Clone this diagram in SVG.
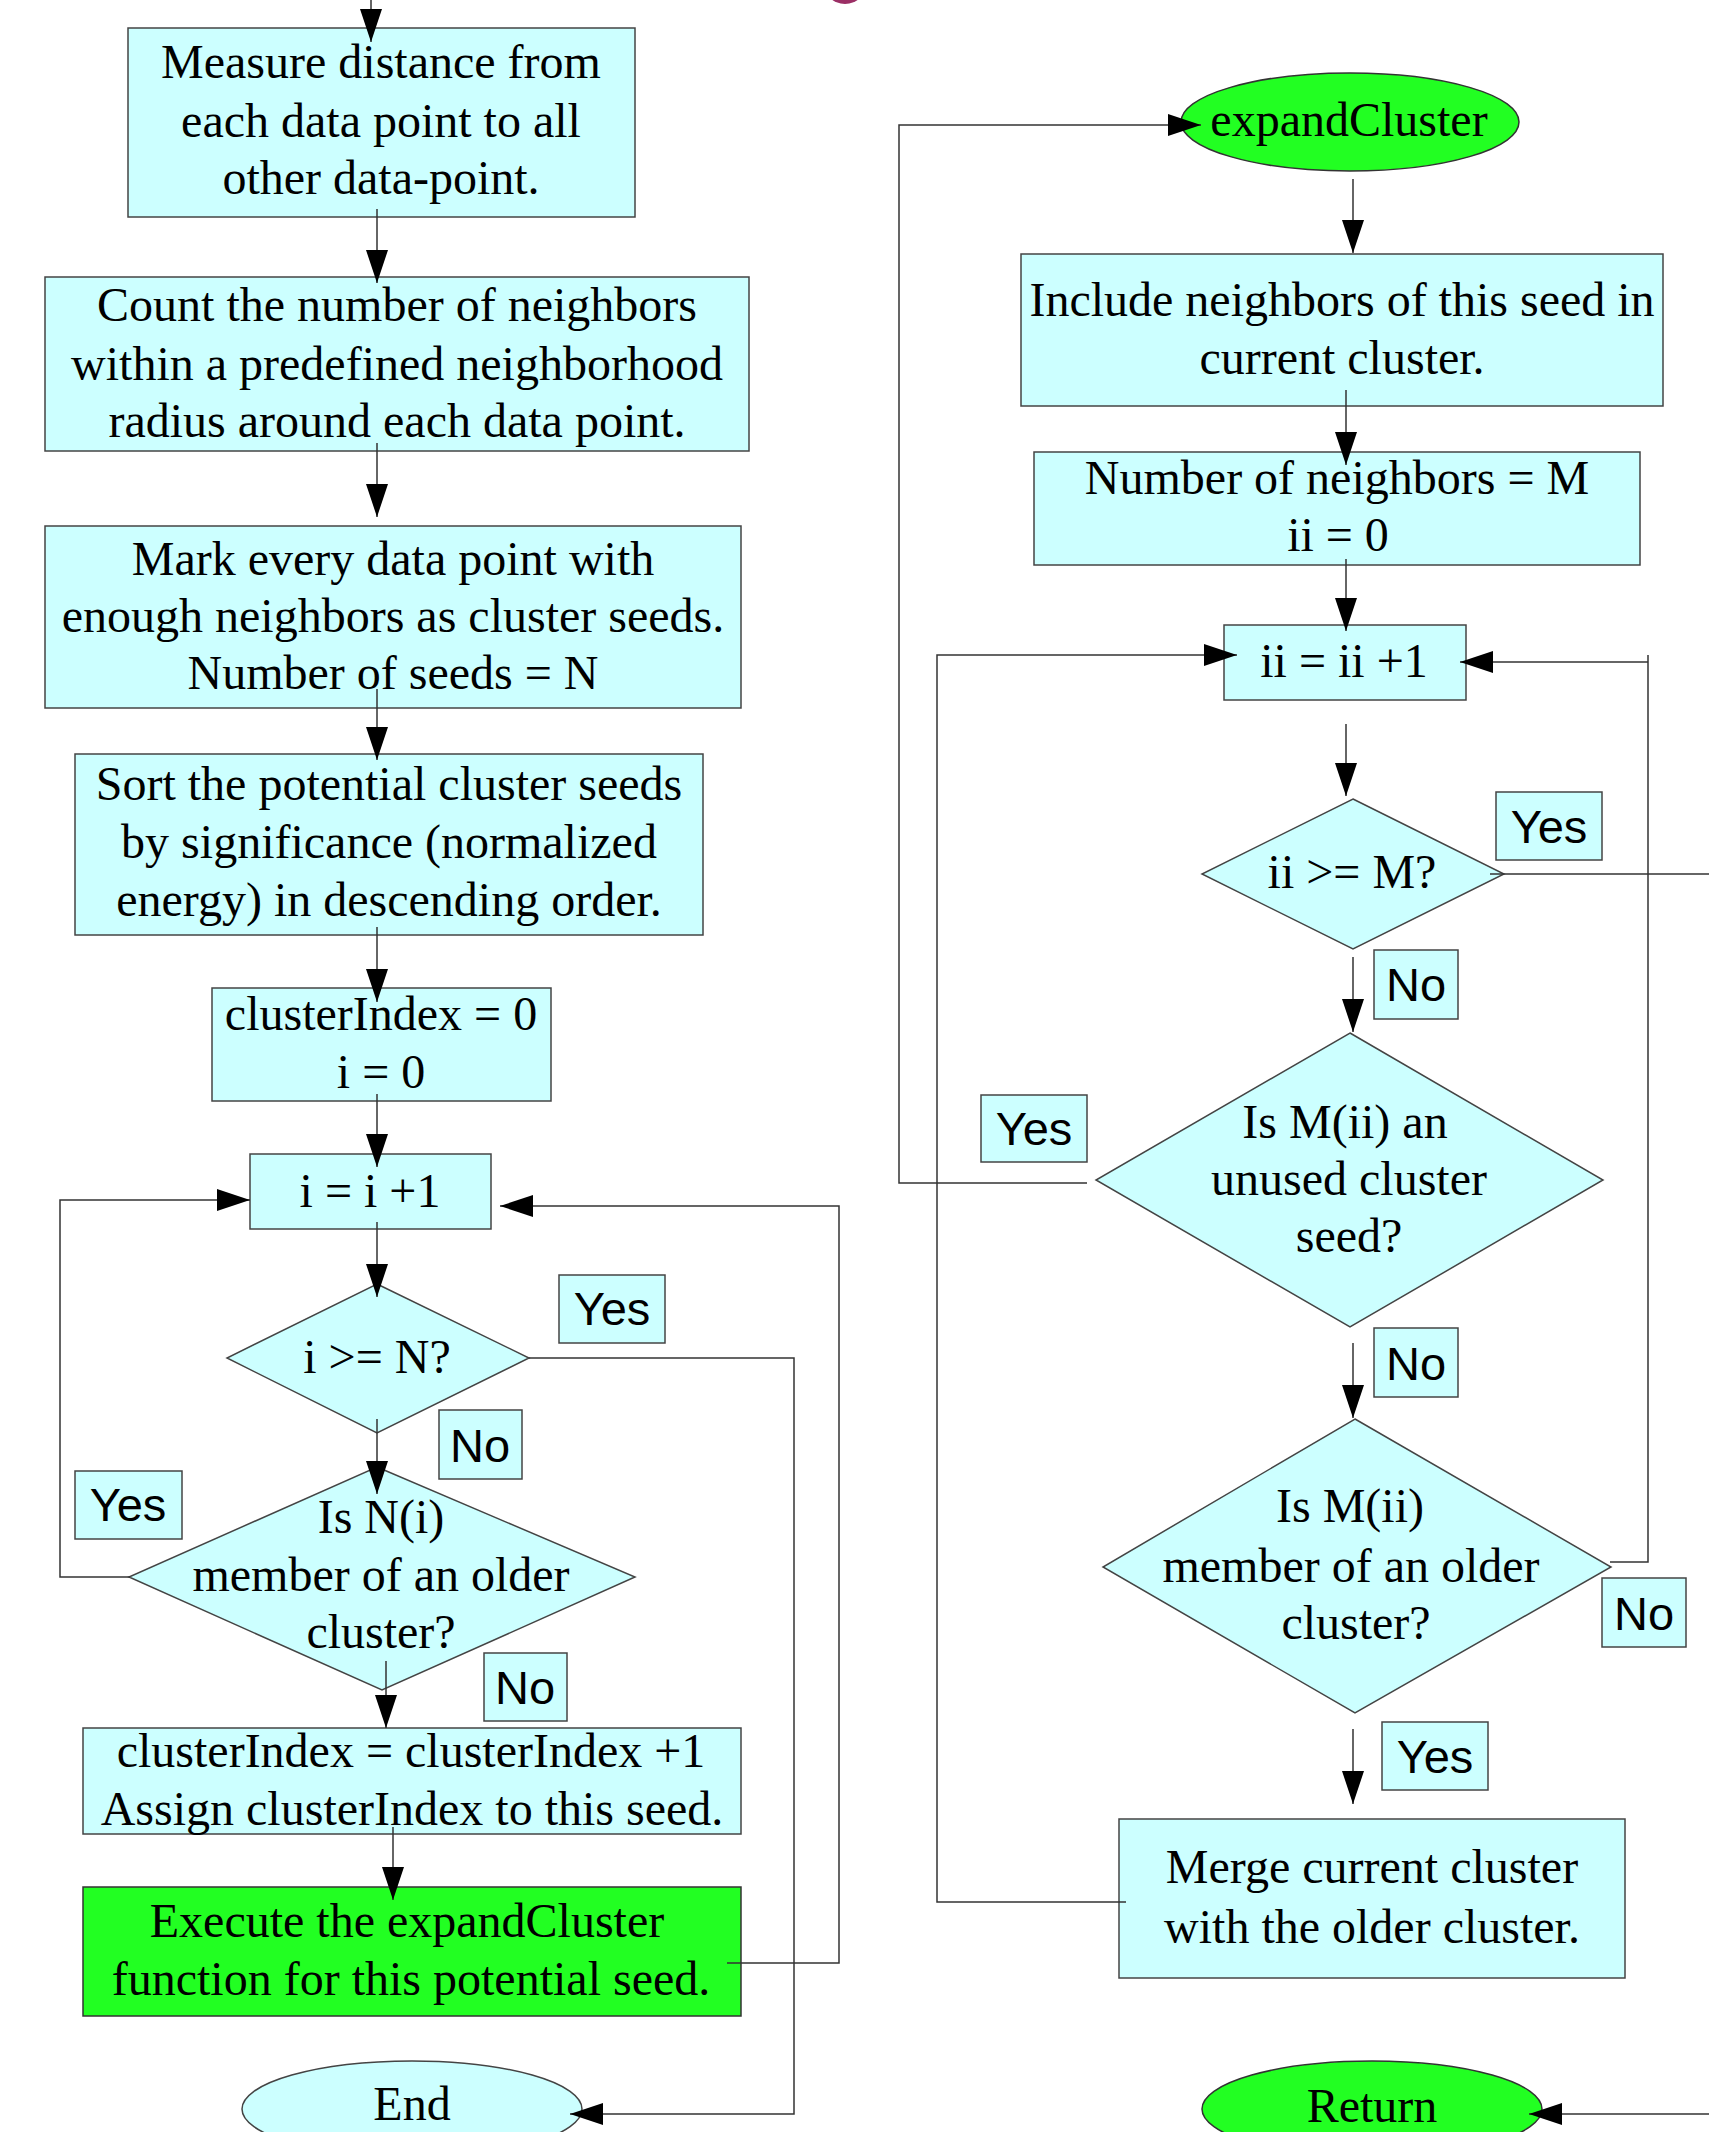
<svg xmlns="http://www.w3.org/2000/svg" width="1709" height="2132" viewBox="0 0 1709 2132">
<style>
.box{fill:#ccffff;stroke:#444;stroke-width:1.5}
.grn{fill:#22ff22;stroke:#333;stroke-width:1.5}
.lbl{fill:#ccffff;stroke:#444;stroke-width:1.5}
.t{font-family:"Liberation Serif","Times New Roman",serif;font-size:48px;fill:#000;text-anchor:middle}
.s{font-family:"Liberation Sans",Arial,sans-serif;font-size:47px;fill:#000;text-anchor:middle}
.c{fill:none;stroke:#333;stroke-width:1.5}
.ca{fill:none;stroke:#333;stroke-width:1.5;marker-end:url(#ah)}
</style>
<defs>
<marker id="ah" markerUnits="userSpaceOnUse" markerWidth="34" markerHeight="22" refX="33" refY="11" orient="auto" viewBox="0 0 34 22">
<path d="M0,0 L33,11 L0,22 z" fill="#000"/>
</marker>
</defs>
<rect width="1709" height="2132" fill="#fff"/>
<ellipse cx="845" cy="-18" rx="22" ry="22" fill="#9b2f65"/>

<g id="measure">
<rect class="box" x="128" y="28" width="507" height="189"/>
<text class="t" x="381" y="78">Measure distance from</text>
<text class="t" x="381" y="137">each data point to all</text>
<text class="t" x="381" y="194">other data-point.</text>
</g>
<g id="count">
<rect class="box" x="45" y="277" width="704" height="174"/>
<text class="t" x="397" y="321">Count the number of neighbors</text>
<text class="t" x="397" y="380">within a predefined neighborhood</text>
<text class="t" x="397" y="437">radius around each data point.</text>
</g>
<g id="mark">
<rect class="box" x="45" y="526" width="696" height="182"/>
<text class="t" x="393" y="575">Mark every data point with</text>
<text class="t" x="393" y="632">enough neighbors as cluster seeds.</text>
<text class="t" x="393" y="689">Number of seeds = N</text>
</g>
<g id="sort">
<rect class="box" x="75" y="754" width="628" height="181"/>
<text class="t" x="389" y="800">Sort the potential cluster seeds</text>
<text class="t" x="389" y="858">by significance (normalized</text>
<text class="t" x="389" y="916">energy) in descending order.</text>
</g>
<g id="init">
<rect class="box" x="212" y="988" width="339" height="113"/>
<text class="t" x="381" y="1030">clusterIndex = 0</text>
<text class="t" x="381" y="1088">i = 0</text>
</g>
<g id="inc-i">
<rect class="box" x="250" y="1154" width="241" height="75"/>
<text class="t" x="370" y="1207">i = i +1</text>
</g>
<g id="dec-i">
<polygon class="box" points="377,1284 529,1358 377,1433 227,1358"/>
<text class="t" x="377" y="1373">i &gt;= N?</text>
</g>
<g id="dec-member">
<polygon class="box" points="377,1467 635,1577 382,1690 129,1577"/>
<text class="t" x="381" y="1533">Is N(i)</text>
<text class="t" x="381" y="1591">member of an older</text>
<text class="t" x="381" y="1648">cluster?</text>
</g>
<g id="assign">
<rect class="box" x="83" y="1728" width="658" height="106"/>
<text class="t" x="411" y="1767">clusterIndex = clusterIndex +1</text>
<text class="t" x="412" y="1825">Assign clusterIndex to this seed.</text>
</g>
<g id="execute">
<rect class="grn" x="83" y="1887" width="658" height="129"/>
<text class="t" x="407" y="1937">Execute the expandCluster</text>
<text class="t" x="411" y="1995">function for this potential seed.</text>
</g>
<g id="end">
<ellipse class="box" cx="412" cy="2109" rx="170" ry="48"/>
<text class="t" x="412" y="2120">End</text>
</g>
<g id="lbl-yes1"><rect class="lbl" x="559" y="1275" width="106" height="68"/><text class="s" x="612" y="1325">Yes</text></g>
<g id="lbl-no1"><rect class="lbl" x="439" y="1410" width="83" height="69"/><text class="s" x="480" y="1462">No</text></g>
<g id="lbl-yes2"><rect class="lbl" x="75" y="1471" width="107" height="68"/><text class="s" x="128" y="1521">Yes</text></g>
<g id="lbl-no2"><rect class="lbl" x="484" y="1653" width="83" height="68"/><text class="s" x="525" y="1704">No</text></g>

<g id="expand">
<ellipse class="grn" cx="1350" cy="122" rx="169" ry="49"/>
<text class="t" x="1349" y="136">expandCluster</text>
</g>
<g id="include">
<rect class="box" x="1021" y="254" width="642" height="152"/>
<text class="t" x="1342" y="316">Include neighbors of this seed in</text>
<text class="t" x="1342" y="374">current cluster.</text>
</g>
<g id="numM">
<rect class="box" x="1034" y="452" width="606" height="113"/>
<text class="t" x="1337" y="494">Number of neighbors = M</text>
<text class="t" x="1338" y="551">ii = 0</text>
</g>
<g id="inc-ii">
<rect class="box" x="1224" y="625" width="242" height="75"/>
<text class="t" x="1344" y="677">ii = ii +1</text>
</g>
<g id="dec-ii">
<polygon class="box" points="1353,799 1504,874 1353,949 1202,874"/>
<text class="t" x="1352" y="888">ii &gt;= M?</text>
</g>
<g id="dec-unused">
<polygon class="box" points="1350,1033 1603,1180 1350,1327 1096,1180"/>
<text class="t" x="1345" y="1138">Is M(ii) an</text>
<text class="t" x="1349" y="1195">unused cluster</text>
<text class="t" x="1349" y="1252">seed?</text>
</g>
<g id="dec-older">
<polygon class="box" points="1355,1419 1611,1567 1355,1713 1103,1567"/>
<text class="t" x="1350" y="1522">Is M(ii)</text>
<text class="t" x="1351" y="1582">member of an older</text>
<text class="t" x="1356" y="1639">cluster?</text>
</g>
<g id="merge">
<rect class="box" x="1119" y="1819" width="506" height="159"/>
<text class="t" x="1372" y="1883">Merge current cluster</text>
<text class="t" x="1372" y="1943">with the older cluster.</text>
</g>
<g id="return">
<ellipse class="grn" cx="1372" cy="2109" rx="170" ry="48"/>
<text class="t" x="1372" y="2122">Return</text>
</g>
<g id="lbl-yes3"><rect class="lbl" x="1496" y="792" width="106" height="68"/><text class="s" x="1549" y="843">Yes</text></g>
<g id="lbl-no3"><rect class="lbl" x="1374" y="950" width="84" height="69"/><text class="s" x="1416" y="1001">No</text></g>
<g id="lbl-yes4"><rect class="lbl" x="981" y="1095" width="106" height="67"/><text class="s" x="1034" y="1145">Yes</text></g>
<g id="lbl-no4"><rect class="lbl" x="1374" y="1328" width="84" height="69"/><text class="s" x="1416" y="1380">No</text></g>
<g id="lbl-no5"><rect class="lbl" x="1602" y="1578" width="84" height="69"/><text class="s" x="1644" y="1630">No</text></g>
<g id="lbl-yes5"><rect class="lbl" x="1382" y="1722" width="106" height="68"/><text class="s" x="1435" y="1773">Yes</text></g>

<g id="connectors">
<path class="ca" d="M371,0 V42"/>
<path class="ca" d="M377,209 V283"/>
<path class="ca" d="M377,443 V517"/>
<path class="ca" d="M377,689 V760"/>
<path class="ca" d="M377,927 V1002"/>
<path class="ca" d="M377,1094 V1167"/>
<path class="ca" d="M377,1222 V1297"/>
<path class="ca" d="M377,1419 V1494"/>
<path class="ca" d="M386,1661 V1728"/>
<path class="ca" d="M393,1827 V1900"/>
<path class="ca" d="M130,1577 H60 V1200 H250"/>
<path class="ca" d="M727,1963 H839 V1206 H500"/>
<path class="ca" d="M529,1358 H794 V2114 H570"/>
<path class="ca" d="M1353,179 V253"/>
<path class="ca" d="M1346,390 V465"/>
<path class="ca" d="M1346,559 V631"/>
<path class="ca" d="M1346,724 V796"/>
<path class="ca" d="M1353,957 V1032"/>
<path class="ca" d="M1353,1343 V1418"/>
<path class="ca" d="M1353,1729 V1804"/>
<path class="ca" d="M1087,1183 H899 V125 H1201"/>
<path class="ca" d="M1126,1902 H937 V655 H1237"/>
<path class="c" d="M1610,1562 H1648 V655"/>
<path class="ca" d="M1648,662 H1460"/>
<path class="c" d="M1490,874 H1709"/>
<path class="ca" d="M1709,2114 H1529"/>
</g>
</svg>
